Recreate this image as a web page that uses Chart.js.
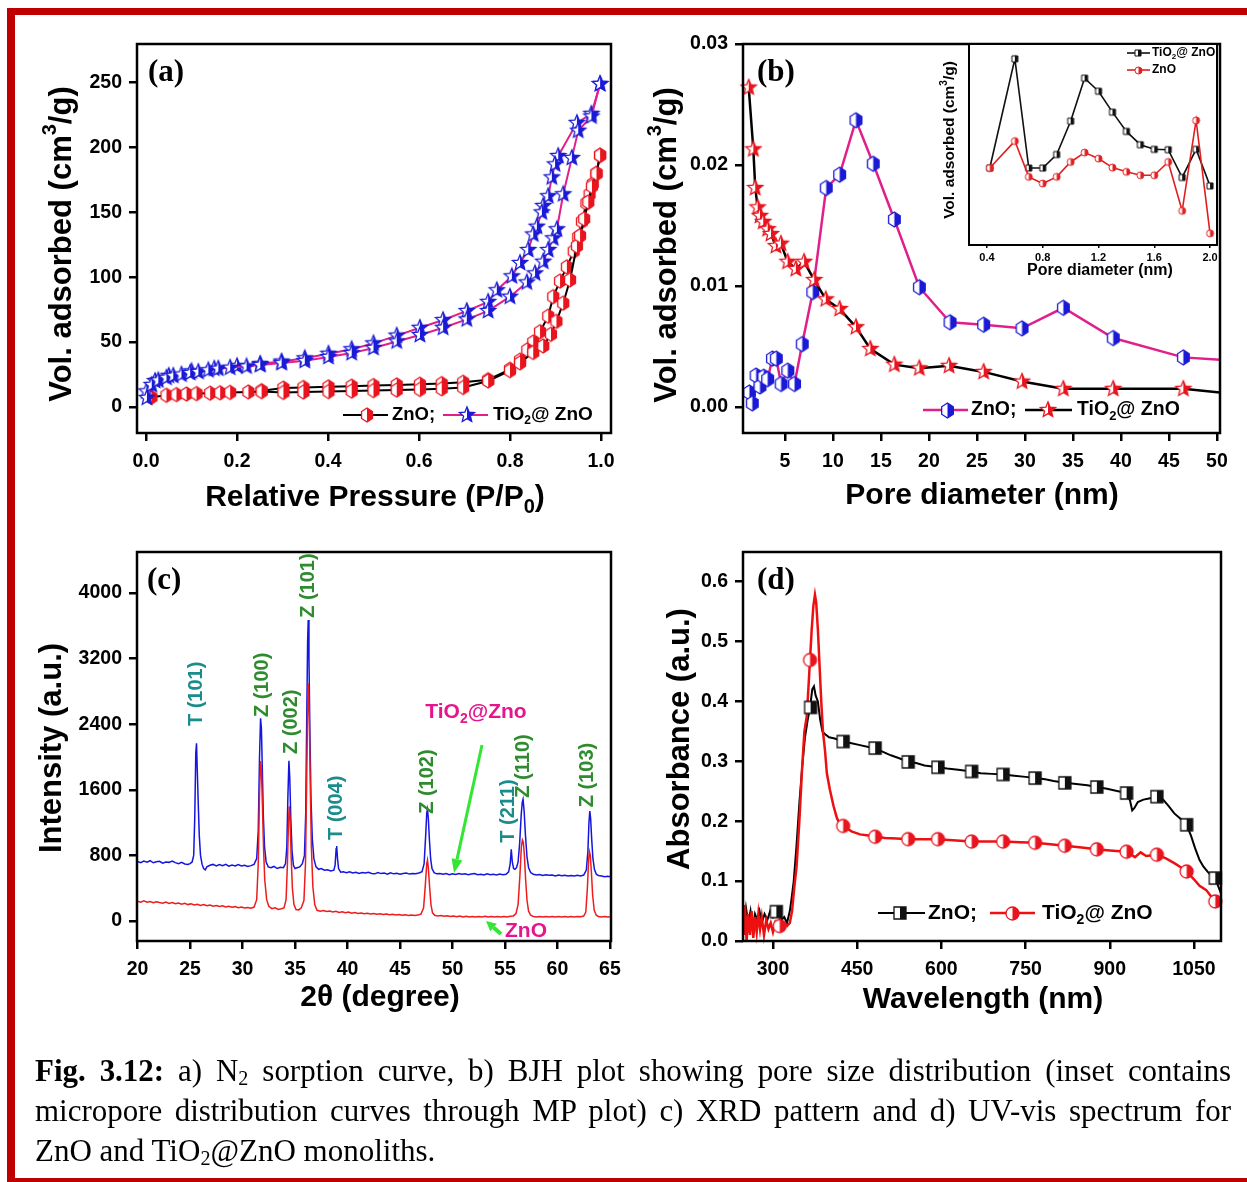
<!DOCTYPE html>
<html><head><meta charset="utf-8">
<script src="https://cdn.jsdelivr.net/npm/chart.js@4.4.1/dist/chart.umd.min.js"></script>
<style>
html,body{margin:0;padding:0;background:#fff;}
body{width:1247px;height:1182px;position:relative;overflow:hidden;}
canvas{position:absolute;left:0;top:0;}
.bar{position:absolute;background:#c00000;}
#caption{position:absolute;left:35px;top:1051px;width:1196px;font-family:"Liberation Serif","Times New Roman",serif;font-size:31px;line-height:40px;color:#000;}
.ln{white-space:nowrap;}
.jl{text-align:justify;text-align-last:justify;}
#caption sub{font-size:65%;vertical-align:-0.18em;line-height:0;}
</style></head>
<body>
<div class="bar" style="left:7px;top:8px;width:1240px;height:7px"></div>
<div class="bar" style="left:7px;top:8px;width:8px;height:1174px"></div>
<div class="bar" style="left:7px;top:1178px;width:1240px;height:4px"></div>
<canvas id="ca" width="1247" height="1182"></canvas>
<canvas id="cb" width="1247" height="1182"></canvas>
<canvas id="cc" width="1247" height="1182"></canvas>
<canvas id="cd" width="1247" height="1182"></canvas>
<canvas id="ci" width="1247" height="1182"></canvas>
<div id="caption">
<div class="ln jl"><span><b>Fig. 3.12:</b> a) N<sub>2</sub> sorption curve, b) BJH plot showing pore size distribution (inset contains</span></div>
<div class="ln jl"><span>micropore distribution curves through MP plot) c) XRD pattern and d) UV-vis spectrum for</span></div>
<div class="ln"><span>ZnO and TiO<sub>2</sub>@ZnO monoliths.</span></div>
</div>
<script>
// ================= DATA =================
// (a) N2 sorption: relative pressure / volume adsorbed
const aZnOAdsP = [0.012,0.045,0.067,0.089,0.111,0.141,0.163,0.185,0.225,0.254,0.302,0.346,0.401,0.452,0.5,0.551,0.602,0.65,0.697,0.752,0.8,0.822,0.851,0.873,0.89,0.902,0.917,0.932,0.947,0.954,0.963,0.972,0.98,0.99,0.998];
const aZnOAdsV = [7.5,9,9.5,10,10.3,10.6,10.9,11.2,11.6,11.8,11.2,11.5,11.8,12.2,12.6,13,13.5,14,15,20,28,34,42,47,56,66,80,98,124,132,145,158,170,180,194];
const aZnODesP = [0.998,0.99,0.982,0.975,0.968,0.958,0.95,0.94,0.925,0.91,0.895,0.884,0.866,0.851,0.838,0.822,0.8,0.752,0.697,0.65,0.602,0.551,0.5,0.452,0.401,0.346,0.302,0.254];
const aZnODesV = [194,180,172,164,157,143,131,120,108,97,85,70,58,50,44,36,29,21,19,18,17.5,17,16.5,16,15.5,15,14.5,12.5];
const aTiAdsP = [0.002,0.0125,0.027,0.045,0.06,0.078,0.097,0.115,0.137,0.159,0.185,0.221,0.251,0.298,0.349,0.401,0.452,0.5,0.551,0.602,0.653,0.705,0.752,0.8,0.837,0.855,0.873,0.884,0.895,0.903,0.917,0.936,0.95,0.979,0.998];
const aTiAdsV = [7,17,20.5,22.5,24,25,26.2,27,28.3,29.5,30.3,31.2,32.3,33.8,35.5,38.5,41.5,45.5,50.5,55.5,61,67.5,74,85,96,103,112,121,130,137,164,192,213,224,249];
const aTiDesP = [0.998,0.979,0.947,0.906,0.899,0.892,0.884,0.873,0.87,0.859,0.851,0.84,0.822,0.804,0.771,0.752,0.705,0.653,0.602,0.551,0.5,0.452,0.401,0.349,0.298,0.251,0.2,0.15,0.1,0.05,0.02,0.001];
const aTiDesV = [249,226,219,193.5,187,177,162.5,155,150,139,133,121,111,100.7,90,81,74,67,61,55,49,44.5,41,37.5,35,33.2,31.5,29.5,27.5,24,20,12];
const aXTicks = [0,0.2,0.4,0.6,0.8,1.0];
const aXLabels = ['0.0','0.2','0.4','0.6','0.8','1.0'];
const aYTicks = [0,50,100,150,200,250];
const aYLabels = ['0','50','100','150','200','250'];

// (b) BJH pore size distribution
const bZnOD = [1.3,1.6,2.0,2.4,2.8,3.2,3.7,4.1,4.6,5.3,6.0,6.8,7.9,9.3,10.7,12.4,14.2,16.4,19.0,22.2,25.7,29.7,34.0,39.2,46.5,50.3];
const bZnOV = [0.0012,0.0003,0.0026,0.0017,0.0025,0.0023,0.0040,0.0040,0.0019,0.0030,0.0019,0.0052,0.0095,0.0181,0.0192,0.0237,0.0201,0.0155,0.0099,0.0070,0.0068,0.0065,0.0082,0.0057,0.0041,0.0039];
const bTiD = [1.23,1.71,1.91,2.16,2.4,2.74,3.2,3.55,4.06,4.58,5.28,6.14,7.0,8.05,9.26,10.7,12.4,13.9,16.4,19.0,22.1,25.7,29.7,34.0,39.2,46.5,50.3];
const bTiV = [0.0264,0.0213,0.0181,0.0165,0.0158,0.0153,0.0147,0.0143,0.0133,0.0135,0.0120,0.0114,0.0120,0.0105,0.0089,0.0081,0.0066,0.0048,0.0035,0.0032,0.0034,0.0029,0.0021,0.0015,0.0015,0.0015,0.0012];
const bXTicks = [5,10,15,20,25,30,35,40,45,50];
const bXLabels = ['5','10','15','20','25','30','35','40','45','50'];
const bYTicks = [0,0.01,0.02,0.03];
const bYLabels = ['0.00','0.01','0.02','0.03'];

// (b) inset: MP micropore distribution (arbitrary units)
const insD = [0.42,0.6,0.7,0.8,0.9,1.0,1.1,1.2,1.3,1.4,1.5,1.6,1.7,1.8,1.9,2.0];
const insTiO2 = [38.3,92.6,38.3,38.3,45,61.6,83,76.5,66.1,56.5,49.9,47.6,47.4,33.6,47.6,29.4];
const insZnO = [38.3,51.7,33.9,30.6,33.9,41.3,46,43,38.5,36.4,34.7,34.7,41.3,17,62,5.8];
const insXTicks = [0.4,0.8,1.2,1.6,2.0];
const insXLabels = ['0.4','0.8','1.2','1.6','2.0'];

// (c) XRD: [2theta, intensity]
const cTiO2 = [[20.0,725],[20.3,712],[20.6,730],[20.9,718],[21.2,735],[21.5,710],[21.8,722],[22.1,728],[22.4,705],[22.7,720],[23.0,715],[23.3,730],[23.6,712],[23.9,700],[24.2,715],[24.5,695],[24.8,690],[25.0,700],[25.2,720],[25.35,800],[25.45,1250],[25.55,2050],[25.62,2167],[25.7,1800],[25.78,1450],[25.88,1050],[26.0,800],[26.15,690],[26.3,640],[26.45,625],[26.6,660],[26.9,680],[27.2,690],[27.5,672],[27.8,688],[28.1,675],[28.4,690],[28.7,668],[29.0,682],[29.3,670],[29.6,688],[29.9,672],[30.2,680],[30.5,665],[30.8,675],[31.1,690],[31.35,760],[31.5,1100],[31.62,2000],[31.72,2472],[31.8,2350],[31.88,1900],[31.98,1300],[32.1,900],[32.25,720],[32.45,660],[32.7,650],[33.0,665],[33.3,640],[33.6,655],[33.9,650],[34.1,700],[34.22,900],[34.32,1500],[34.42,1955],[34.5,1750],[34.6,1250],[34.72,850],[34.85,680],[35.0,640],[35.2,650],[35.45,660],[35.7,700],[35.9,800],[36.02,1300],[36.12,2500],[36.2,3400],[36.26,3670],[36.33,3200],[36.42,2300],[36.52,1500],[36.65,1000],[36.8,760],[37.0,660],[37.25,630],[37.5,640],[37.8,620],[38.1,625],[38.4,610],[38.7,620],[38.82,680],[38.92,880],[38.97,915],[39.05,760],[39.15,640],[39.35,595],[39.6,600],[39.9,590],[40.2,600],[40.5,585],[40.8,595],[41.1,580],[41.4,590],[41.7,585],[42.0,595],[42.3,580],[42.6,575],[42.9,590],[43.2,578],[43.5,585],[43.8,572],[44.1,588],[44.4,575],[44.7,582],[45.0,570],[45.3,580],[45.6,585],[45.9,572],[46.2,580],[46.5,575],[46.8,585],[47.1,600],[47.3,700],[47.45,1050],[47.55,1320],[47.62,1362],[47.7,1250],[47.8,1000],[47.92,760],[48.05,640],[48.25,590],[48.5,575],[48.8,580],[49.1,570],[49.4,578],[49.7,565],[50.0,575],[50.3,568],[50.6,578],[50.9,570],[51.2,575],[51.5,565],[51.8,572],[52.1,578],[52.4,565],[52.7,570],[53.0,562],[53.3,575],[53.6,565],[53.9,570],[54.2,560],[54.5,572],[54.8,565],[55.1,570],[55.35,600],[55.5,700],[55.6,874],[55.7,720],[55.82,640],[55.95,630],[56.1,650],[56.25,720],[56.4,950],[56.55,1300],[56.65,1450],[56.72,1484],[56.82,1350],[56.95,1050],[57.1,780],[57.25,650],[57.45,590],[57.7,570],[58.0,560],[58.3,568],[58.6,555],[58.9,565],[59.2,558],[59.5,562],[59.8,550],[60.1,560],[60.4,552],[60.7,558],[61.0,548],[61.3,555],[61.6,550],[61.9,558],[62.2,548],[62.5,560],[62.75,620],[62.9,850],[63.0,1200],[63.08,1341],[63.16,1250],[63.26,1000],[63.38,760],[63.52,630],[63.7,570],[63.9,555],[64.2,548],[64.5,540],[64.8,545],[65.0,540]];
const cZnO = [[20.0,240],[20.3,228],[20.6,245],[20.9,230],[21.2,238],[21.5,222],[21.8,235],[22.1,225],[22.4,218],[22.7,230],[23.0,215],[23.3,225],[23.6,210],[23.9,220],[24.2,205],[24.5,215],[24.8,200],[25.1,210],[25.4,195],[25.7,205],[26.0,190],[26.3,200],[26.6,185],[26.9,195],[27.2,180],[27.5,190],[27.8,178],[28.1,185],[28.4,172],[28.7,180],[29.0,168],[29.3,175],[29.6,162],[29.9,170],[30.2,158],[30.5,165],[30.8,155],[31.1,170],[31.35,260],[31.5,700],[31.62,1550],[31.72,1950],[31.8,1850],[31.9,1400],[32.0,900],[32.12,500],[32.3,260],[32.5,180],[32.8,150],[33.1,160],[33.4,140],[33.7,150],[33.95,160],[34.15,260],[34.28,700],[34.38,1200],[34.45,1400],[34.53,1250],[34.63,800],[34.75,400],[34.9,200],[35.1,140],[35.35,135],[35.6,160],[35.85,250],[36.0,700],[36.12,1800],[36.22,2700],[36.28,2900],[36.36,2500],[36.45,1700],[36.56,900],[36.7,420],[36.88,200],[37.1,130],[37.4,120],[37.7,128],[38.0,115],[38.3,122],[38.6,110],[38.9,118],[39.2,105],[39.5,112],[39.8,100],[40.1,108],[40.4,95],[40.7,102],[41.0,92],[41.3,98],[41.6,88],[41.9,95],[42.2,85],[42.5,92],[42.8,82],[43.1,88],[43.4,78],[43.7,85],[44.0,75],[44.3,82],[44.6,72],[44.9,78],[45.2,70],[45.5,76],[45.8,68],[46.1,74],[46.4,66],[46.7,72],[47.0,85],[47.25,160],[47.42,450],[47.55,700],[47.62,744],[47.7,650],[47.82,420],[47.95,200],[48.1,100],[48.3,70],[48.6,62],[48.9,68],[49.2,58],[49.5,64],[49.8,55],[50.1,62],[50.4,52],[50.7,60],[51.0,50],[51.3,58],[51.6,50],[51.9,56],[52.2,48],[52.5,55],[52.8,50],[53.1,57],[53.4,48],[53.7,55],[54.0,50],[54.3,56],[54.6,48],[54.9,55],[55.2,50],[55.5,58],[55.8,62],[56.05,90],[56.25,200],[56.42,550],[56.56,900],[56.66,988],[56.75,960],[56.85,800],[56.97,500],[57.1,250],[57.25,120],[57.45,70],[57.7,55],[58.0,50],[58.3,56],[58.6,48],[58.9,54],[59.2,50],[59.5,56],[59.8,48],[60.1,55],[60.4,50],[60.7,56],[61.0,48],[61.3,54],[61.6,50],[61.9,56],[62.2,52],[62.5,60],[62.7,110],[62.85,400],[62.97,750],[63.05,845],[63.13,800],[63.23,600],[63.35,320],[63.5,130],[63.7,70],[63.9,55],[64.2,50],[64.5,55],[64.8,50],[65.0,52]];
const cXTicks = [20,25,30,35,40,45,50,55,60,65];
const cXLabels = ['20','25','30','35','40','45','50','55','60','65'];
const cYTicks = [0,800,1600,2400,3200,4000];
const cYLabels = ['0','800','1600','2400','3200','4000'];
// XRD peak labels: [text, 2theta, intensity at label centre, phase]
const cPeakLabels = [['T (101)',25.65,2770,'T'],['Z (100)',31.95,2880,'Z'],['Z (002)',34.7,2430,'Z'],['Z (101)',36.3,4090,'Z'],['T (004)',38.95,1380,'T'],['Z (102)',47.6,1700,'Z'],['T (211)',55.3,1340,'T'],['Z (110)',56.8,1890,'Z'],['Z (103)',62.9,1780,'Z']];

// (d) UV-vis: [wavelength, absorbance]
const dZnOLine = [[248,0.02],[252,0.055],[256,0.03],[260,0.05],[264,0.02],[268,0.045],[272,0.035],[276,0.05],[280,0.03],[285,0.045],[290,0.035],[295,0.05],[300,0.04],[305,0.05],[310,0.045],[315,0.035],[320,0.04],[325,0.03],[330,0.05],[333,0.07],[337,0.1],[342,0.16],[347,0.23],[352,0.29],[357,0.34],[362,0.37],[366,0.39],[370,0.42],[373,0.425],[376,0.41],[380,0.4],[384,0.37],[388,0.35],[393,0.345],[400,0.34],[410,0.338],[425,0.333],[440,0.33],[455,0.327],[470,0.324],[482,0.322],[495,0.316],[510,0.31],[525,0.305],[541,0.299],[555,0.297],[570,0.293],[594,0.29],[610,0.288],[630,0.286],[654,0.283],[670,0.28],[690,0.279],[710,0.278],[730,0.276],[750,0.274],[767,0.272],[785,0.27],[800,0.267],[820,0.264],[840,0.262],[860,0.26],[877,0.257],[895,0.254],[915,0.25],[930,0.247],[936,0.235],[940,0.218],[944,0.222],[950,0.232],[960,0.236],[970,0.238],[984,0.241],[995,0.236],[1005,0.225],[1015,0.213],[1025,0.205],[1037,0.194],[1045,0.175],[1052,0.155],[1060,0.135],[1067,0.124],[1075,0.115],[1082,0.108],[1088,0.105],[1093,0.092],[1098,0.08]];
const dZnOMarks = [[306,0.049],[367,0.39],[425,0.333],[482,0.322],[541,0.299],[594,0.29],[654,0.283],[710,0.278],[767,0.272],[820,0.264],[877,0.257],[930,0.247],[984,0.241],[1037,0.194],[1088,0.105]];
const dTiLine = [[248,0.01],[250,0.06],[253,0.0],[256,0.045],[259,0.01],[262,0.05],[265,0.005],[268,0.04],[271,0.015],[274,0.045],[277,0.02],[280,0.04],[284,0.01],[288,0.035],[292,0.02],[296,0.03],[300,0.015],[304,0.03],[308,0.02],[312,0.035],[316,0.02],[320,0.03],[325,0.025],[330,0.03],[334,0.05],[338,0.09],[342,0.124],[347,0.2],[352,0.29],[356,0.35],[360,0.374],[363,0.42],[366,0.47],[369,0.52],[372,0.56],[374.8,0.578],[377,0.565],[380,0.52],[383,0.46],[386,0.4],[389,0.35],[392.6,0.319],[396,0.28],[401.5,0.252],[408,0.225],[414,0.205],[419,0.196],[425,0.192],[440,0.183],[455,0.178],[470,0.176],[482,0.174],[500,0.172],[520,0.171],[541,0.17],[560,0.17],[594,0.17],[620,0.168],[654,0.166],[680,0.166],[710,0.166],[740,0.165],[767,0.164],[790,0.162],[820,0.159],[850,0.156],[877,0.153],[900,0.151],[930,0.149],[945,0.14],[955,0.148],[965,0.142],[984,0.144],[1000,0.138],[1015,0.13],[1025,0.124],[1037,0.116],[1050,0.103],[1060,0.092],[1072,0.085],[1080,0.075],[1087,0.066],[1093,0.065],[1098,0.062]];
const dTiMarks = [[312,0.025],[366,0.469],[425,0.192],[482,0.174],[541,0.17],[594,0.17],[654,0.166],[710,0.166],[767,0.164],[820,0.159],[877,0.153],[930,0.149],[984,0.144],[1037,0.116],[1088,0.066]];
const dXTicks = [300,450,600,750,900,1050];
const dXLabels = ['300','450','600','750','900','1050'];
const dYTicks = [0,0.1,0.2,0.3,0.4,0.5,0.6];
const dYLabels = ['0.0','0.1','0.2','0.3','0.4','0.5','0.6'];

// ================= DRAWING =================
const W = 1247, H = 1182;
const FONT = '"Liberation Sans", Arial, Helvetica, sans-serif';
const SERIF = '"Liberation Serif", "Times New Roman", serif';
const MAG = '#e0208a';
const TEAL = '#1a8c8c';
const GREEN = '#2e8b2e';
const PINK = '#e6158c';
const ARROW = '#33e633';
const TFS = 19.5;   // tick font size
const XT = 30;      // x title size
const YT = 31;      // y title size

// fit caption lines into the column width
document.querySelectorAll('#caption .jl').forEach(div=>{
  const sp = div.querySelector('span');
  const w = sp.getBoundingClientRect().width;
  if (w > 1194) { div.style.fontSize = (31*1194/w).toFixed(2)+'px'; }
});

function zip(xs, ys){ return xs.map((x,i)=>({x:x, y:ys[i]})); }
function pairs(p){ return p.map(q=>({x:q[0], y:q[1]})); }

function shapePath(g, shape, cx, cy, r){
  g.beginPath();
  if (shape==='hex'){
    for (let i=0;i<6;i++){ const a=-Math.PI/2+i*Math.PI/3; const px=cx+r*0.9*Math.cos(a), py=cy+r*Math.sin(a); if(i) g.lineTo(px,py); else g.moveTo(px,py); }
    g.closePath();
  } else if (shape==='star'){
    for (let i=0;i<10;i++){ const a=-Math.PI/2+i*Math.PI/5; const rr=(i%2)?r*0.45:r; const px=cx+rr*Math.cos(a), py=cy+rr*Math.sin(a); if(i) g.lineTo(px,py); else g.moveTo(px,py); }
    g.closePath();
  } else if (shape==='square'){
    g.rect(cx-r, cy-r, 2*r, 2*r);
  } else {
    g.arc(cx, cy, r, 0, Math.PI*2);
  }
}
function makeMarker(shape, color, size, lw){
  const s = Math.ceil(size+4);
  const c = document.createElement('canvas'); c.width=s; c.height=s;
  const g = c.getContext('2d'); const cx=s/2, cy=s/2, r=size/2;
  shapePath(g,shape,cx,cy,r); g.fillStyle='#fff'; g.fill();
  g.save(); g.beginPath(); g.rect(cx,0,s,s); g.clip();
  shapePath(g,shape,cx,cy,r); g.fillStyle=color; g.fill(); g.restore();
  shapePath(g,shape,cx,cy,r); g.lineWidth=lw||1.2; g.strokeStyle=color; g.lineJoin='miter'; g.stroke();
  return c;
}
const mkHexRed = makeMarker('hex','#e8141e',14,1.3);
const mkStarBlue = makeMarker('star','#1a1ad6',16,1.3);
const mkHexBlue = makeMarker('hex','#1a1ad6',15,1.3);
const mkStarRed = makeMarker('star','#e8141e',16,1.3);
const mkSqBlackS = makeMarker('square','#111',6,1);
const mkCirRedS = makeMarker('circle','#e02020',7,1);
const mkSqBlack = makeMarker('square','#111',12,1.3);
const mkCirRed = makeMarker('circle','#e8141e',13,1.3);

function rich(ctx, parts, x, y, o){
  const size=o.size, fam=o.family||FONT, wt=o.weight||'bold';
  const fontFor = m => wt+' '+(m? Math.round(size*0.65): size)+'px '+fam;
  let total=0;
  const ws = parts.map(p=>{ ctx.font=fontFor(p[1]); const w=ctx.measureText(p[0]).width; total+=w; return w; });
  ctx.save(); ctx.translate(x,y); if (o.rot) ctx.rotate(-Math.PI/2);
  let cx = o.align==='left'?0:(o.align==='right'?-total:-total/2);
  ctx.fillStyle=o.color||'#000'; ctx.textBaseline='middle'; ctx.textAlign='left';
  parts.forEach((p,i)=>{ ctx.font=fontFor(p[1]); const dy = p[1]===1? size*0.32 : (p[1]===2? -size*0.36 : 0); ctx.fillText(p[0], cx, dy); cx+=ws[i]; });
  ctx.restore();
  return total;
}
function legendLine(ctx, x1, x2, y, color, lw, mk, mx){
  ctx.save(); ctx.strokeStyle=color; ctx.lineWidth=lw; ctx.beginPath(); ctx.moveTo(x1,y); ctx.lineTo(x2,y); ctx.stroke();
  ctx.drawImage(mk, Math.round(mx-mk.width/2), Math.round(y-mk.height/2)); ctx.restore();
}
function arrow(ctx, x1,y1,x2,y2, color, lw, hl, hw){
  const a=Math.atan2(y2-y1,x2-x1);
  const bx=x2-hl*Math.cos(a), by=y2-hl*Math.sin(a);
  ctx.save(); ctx.strokeStyle=color; ctx.fillStyle=color; ctx.lineWidth=lw;
  ctx.beginPath(); ctx.moveTo(x1,y1); ctx.lineTo(bx,by); ctx.stroke();
  ctx.beginPath(); ctx.moveTo(x2,y2);
  ctx.lineTo(bx+hw/2*Math.sin(a), by-hw/2*Math.cos(a));
  ctx.lineTo(bx-hw/2*Math.sin(a), by+hw/2*Math.cos(a)); ctx.closePath(); ctx.fill();
  ctx.restore();
}

function scaleOpts(c, axis){
  return {
    type:'linear', min:c.min, max:c.max, display:c.display!==false,
    position: axis==='x'?'bottom':'left',
    afterFit(s){ if(axis==='x') s.height=c.size; else s.width=c.size; },
    afterBuildTicks(s){ s.ticks = c.ticks.map(v=>({value:v})); },
    ticks:{ autoSkip:false, maxRotation:0, minRotation:0, padding:c.pad, color:'#000',
      font:{family:FONT, weight:'bold', size:c.fs}, callback:(v,i)=>c.labels[i] },
    grid:{ display:true, drawOnChartArea:false, drawTicks:true, tickLength:c.tl, color:'#000', lineWidth:c.tw },
    border:{ display:false },
    title:{ display:false }
  };
}
function buildChart(id, rect, xc, yc, datasets, decor, opts){
  opts = opts||{};
  const yW = yc.display===false?0:yc.size;
  return new Chart(document.getElementById(id), {
    type:'scatter',
    data:{ datasets: datasets },
    options:{
      responsive:false, animation:false, events:[],
      layout:{ padding:{ left:rect.L-yW, top:rect.T, right:W-rect.R, bottom:H-rect.B-xc.size } },
      plugins:{ legend:{display:false}, tooltip:{enabled:false} },
      scales:{ x:scaleOpts(xc,'x'), y:scaleOpts(yc,'y') }
    },
    plugins:[{
      id:'decor'+id,
      beforeDraw(chart){ if(opts.whiteBg){ const a=chart.chartArea; const g=chart.ctx; g.save(); g.fillStyle='#fff'; g.fillRect(a.left,a.top,a.right-a.left,a.bottom-a.top); g.restore(); } },
      afterDatasetsDraw(chart){ const a=chart.chartArea; const g=chart.ctx; g.save(); g.strokeStyle='#000'; g.lineWidth=opts.boxW||2.5; g.strokeRect(a.left,a.top,a.right-a.left,a.bottom-a.top); g.restore(); },
      afterDraw(chart){ decor(chart.ctx, chart); }
    }]
  });
}
function lineDS(data, color, lw, mk, order, extra){
  return Object.assign({ data:data, showLine:true, borderColor:color, borderWidth:lw, backgroundColor:color,
    pointStyle:mk||'circle', pointRadius:mk?7:0, tension:0, order:order, clip:false }, extra||{});
}

// ---------- (a) ----------
buildChart('ca', {L:137,T:44,R:611,B:433},
  {min:-0.0198, max:1.022, ticks:aXTicks, labels:aXLabels, size:60, pad:9, tl:8, tw:2.5, fs:TFS},
  {min:-20.1, max:279.8, ticks:aYTicks, labels:aYLabels, size:60, pad:7, tl:8, tw:2.5, fs:TFS},
  [
    lineDS(zip(aZnOAdsP,aZnOAdsV), '#000', 2, mkHexRed, 3),
    lineDS(zip(aZnODesP,aZnODesV), '#000', 2, mkHexRed, 3),
    lineDS(zip(aTiAdsP,aTiAdsV), MAG, 2, mkStarBlue, 2),
    lineDS(zip(aTiDesP,aTiDesV), MAG, 2, mkStarBlue, 2)
  ],
  function(g){
    rich(g, [['Vol. adsorbed (cm',0],['3',2],['/g)',0]], 62, 244, {size:YT, rot:true});
    rich(g, [['Relative Pressure (P/P',0],['0',1],[')',0]], 375, 498, {size:XT});
    rich(g, [['(a)',0]], 148, 73, {size:31, family:SERIF, align:'left'});
    legendLine(g, 343, 388, 415, '#000', 2, mkHexRed, 367);
    rich(g, [['ZnO;',0]], 392, 415, {size:18.5, align:'left'});
    legendLine(g, 443, 488, 415, MAG, 2, mkStarBlue, 467);
    rich(g, [['TiO',0],['2',1],['@ ZnO',0]], 493, 415, {size:19, align:'left'});
  });

// ---------- (b) ----------
buildChart('cb', {L:743,T:44,R:1220,B:433},
  {min:0.634, max:50.32, ticks:bXTicks, labels:bXLabels, size:60, pad:9, tl:8, tw:2.5, fs:TFS},
  {min:-0.00215, max:0.03, ticks:bYTicks, labels:bYLabels, size:60, pad:7, tl:8, tw:2.5, fs:TFS},
  [
    lineDS(zip(bZnOD,bZnOV), MAG, 2.5, mkHexBlue, 2, {pointRadius: bZnOD.map((d,i)=> i===bZnOD.length-1?0:7)}),
    lineDS(zip(bTiD,bTiV), '#000', 2.5, mkStarRed, 1, {pointRadius: bTiD.map((d,i)=> i===bTiD.length-1?0:7)})
  ],
  function(g){
    rich(g, [['Vol. adsorbed (cm',0],['3',2],['/g)',0]], 667, 245, {size:YT, rot:true});
    rich(g, [['Pore diameter (nm)',0]], 982, 496, {size:XT});
    rich(g, [['(b)',0]], 757, 73, {size:31, family:SERIF, align:'left'});
    legendLine(g, 923, 968, 410, MAG, 2.5, mkHexBlue, 947);
    rich(g, [['ZnO;',0]], 971, 410, {size:19.5, align:'left'});
    legendLine(g, 1025, 1072, 410, '#000', 2.5, mkStarRed, 1048);
    rich(g, [['TiO',0],['2',1],['@ ZnO',0]], 1077, 410, {size:19.5, align:'left'});
  });

// ---------- (b) inset ----------
buildChart('ci', {L:969,T:44,R:1217,B:245},
  {min:0.271, max:2.05, ticks:insXTicks, labels:insXLabels, size:20, pad:3, tl:3, tw:1.5, fs:11},
  {min:0, max:100, ticks:[0], labels:[''], size:0, pad:0, tl:0, tw:0, fs:10, display:false},
  [
    lineDS(zip(insD,insTiO2), '#111', 1.6, mkSqBlackS, 2, {pointRadius:4}),
    lineDS(zip(insD,insZnO), '#e02020', 1.6, mkCirRedS, 1, {pointRadius:4})
  ],
  function(g){
    rich(g, [['Vol. adsorbed (cm',0],['3',2],['/g)',0]], 950, 140, {size:15.5, rot:true});
    rich(g, [['Pore diameter (nm)',0]], 1100, 271, {size:16});
    legendLine(g, 1127, 1150, 53, '#111', 1.6, mkSqBlackS, 1138);
    rich(g, [['TiO',0],['2',1],['@ ZnO',0]], 1152, 53, {size:12, align:'left'});
    legendLine(g, 1127, 1150, 70, '#e02020', 1.6, mkCirRedS, 1138);
    rich(g, [['ZnO',0]], 1152, 70, {size:12, align:'left'});
  }, {whiteBg:true, boxW:2});

// ---------- (c) ----------
buildChart('cc', {L:137,T:552,R:611,B:941},
  {min:19.95, max:65.1, ticks:cXTicks, labels:cXLabels, size:60, pad:9, tl:8, tw:2.5, fs:TFS},
  {min:-244, max:4500, ticks:cYTicks, labels:cYLabels, size:60, pad:7, tl:8, tw:2.5, fs:TFS},
  [
    lineDS(pairs(cZnO), '#ee1c1c', 1.5, null, 1),
    lineDS(pairs(cTiO2), '#1515e0', 1.5, null, 2)
  ],
  function(g, chart){
    const xs=chart.scales.x, ys=chart.scales.y;
    rich(g, [['Intensity (a.u.)',0]], 52, 748, {size:YT, rot:true});
    rich(g, [['2θ (degree)',0]], 380, 998, {size:XT});
    rich(g, [['(c)',0]], 147, 581, {size:31, family:SERIF, align:'left'});
    cPeakLabels.forEach(p=>{
      rich(g, [[p[0],0]], xs.getPixelForValue(p[1]), ys.getPixelForValue(p[2]), {size:20, rot:true, color: p[3]==='T'?TEAL:GREEN});
    });
    rich(g, [['TiO',0],['2',1],['@Zno',0]], 476, 712, {size:21, color:PINK});
    arrow(g, 482, 745, 454, 873, ARROW, 3, 14, 11);
    arrow(g, 501, 934, 486, 921, ARROW, 4, 10, 10);
    rich(g, [['ZnO',0]], 526, 931, {size:21, color:PINK});
  });

// ---------- (d) ----------
buildChart('cd', {L:743,T:552,R:1221,B:941},
  {min:246.6, max:1098.2, ticks:dXTicks, labels:dXLabels, size:60, pad:9, tl:8, tw:2.5, fs:TFS},
  {min:0, max:0.6494, ticks:dYTicks, labels:dYLabels, size:60, pad:7, tl:8, tw:2.5, fs:TFS},
  [
    lineDS(pairs(dZnOLine), '#000', 2, null, 4),
    lineDS(pairs(dTiLine), '#ee1010', 2.5, null, 3),
    {data:pairs(dZnOMarks), showLine:false, pointStyle:mkSqBlack, pointRadius:6, order:2, clip:false},
    {data:pairs(dTiMarks), showLine:false, pointStyle:mkCirRed, pointRadius:6, order:1, clip:false}
  ],
  function(g){
    rich(g, [['Absorbance (a.u.)',0]], 680, 739, {size:YT, rot:true});
    rich(g, [['Wavelength (nm)',0]], 983, 1000, {size:XT});
    rich(g, [['(d)',0]], 757, 581, {size:31, family:SERIF, align:'left'});
    legendLine(g, 878, 925, 913, '#000', 2, mkSqBlack, 900);
    rich(g, [['ZnO;',0]], 928, 913, {size:21, align:'left'});
    legendLine(g, 990, 1035, 913, '#ee1010', 2.5, mkCirRed, 1012);
    rich(g, [['TiO',0],['2',1],['@ ZnO',0]], 1042, 913, {size:21, align:'left'});
  });
</script>
</body></html>
